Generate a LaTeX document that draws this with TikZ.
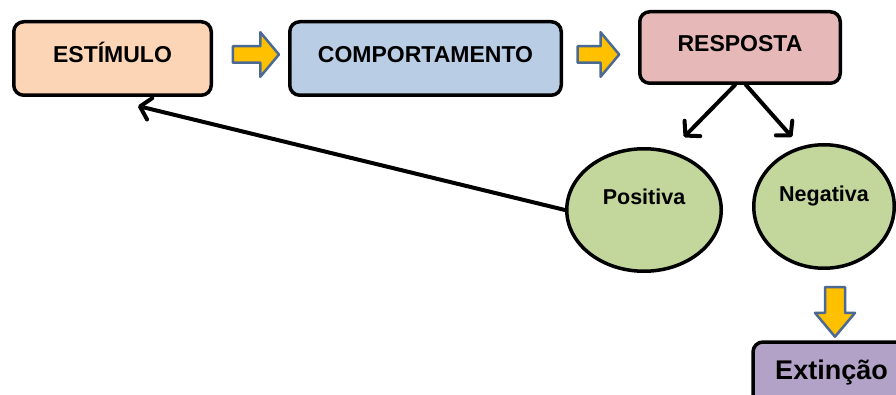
\documentclass[tikz,border=0pt]{standalone}
\usepackage{fontspec}
\setmainfont{Liberation Sans}
\usetikzlibrary{arrows.meta}
\usetikzlibrary{shapes, shapes.arrows}

\definecolor{corEst}{HTML}{FBD5B5}
\definecolor{corComp}{HTML}{B9CDE5}
\definecolor{corResp}{HTML}{E6B9B8}
\definecolor{corElip}{HTML}{C3D69B}
\definecolor{corExt}{HTML}{B3A2C7}
\definecolor{corSeta}{HTML}{FFC000}
\definecolor{bordaSeta}{HTML}{4A6A94}

\tikzset{
  caixa/.style={rectangle, draw=black, rounded corners=10pt, line width=3.5pt,
    inner sep=0pt, font=\bfseries\fontsize{23}{26}\selectfont,
    text height=17pt, text depth=8pt},
  elipse/.style={ellipse, draw=black, fill=corElip, line width=3.5pt,
    inner sep=0pt, font=\bfseries\fontsize{21.5}{24}\selectfont,
    text height=16pt, text depth=27pt},
  setabloco/.style={single arrow, draw=bordaSeta, fill=corSeta, line width=2.5pt,
    inner xsep=0pt, inner ysep=7pt, text height=0pt, text depth=0pt,
    single arrow head extend=14pt, single arrow tip angle=100},
  seta/.style={black, line width=4pt, line cap=round, ->},
}

\begin{document}
\begin{tikzpicture}[x=1pt,y=-1pt,>={Straight Barb[length=10pt,width=22pt,round]},line join=round]
\useasboundingbox (0,0) rectangle (896,395);
\clip (0,0) rectangle (896,395);
%%
\node (estimulo) at (112.5,58.5) [caixa,fill=corEst,minimum width=197.5pt,minimum height=73.5pt] {ESTÍMULO};
  \node (comportamento) at (425.5,58.5) [caixa,fill=corComp,minimum width=271.5pt,minimum height=73.5pt] {COMPORTAMENTO};
  \node (resposta) at (740,47.5) [caixa,fill=corResp,minimum width=200.5pt,minimum height=71.5pt] {RESPOSTA};
  \node (positiva) at (644,210) [elipse,minimum width=154.5pt,minimum height=122.5pt] {Positiva};
  \node (negativa) at (824,206.5) [elipse,minimum width=140.5pt,minimum height=123.5pt,text depth=25pt] {Negativa};
  \node (extincao) at (831.5,378) [caixa,fill=corExt,minimum width=157pt,minimum height=72pt,
    font=\bfseries\fontsize{27}{30}\selectfont,text height=20pt,text depth=17pt] {Extinção};
%
  \node (seta1) at (252.5,54.5) [setabloco,minimum height=46pt] {};
  \node (seta2) at (595,54.5) [setabloco,minimum height=41.5pt] {};
  \node (seta3) at (835,306) [setabloco,rotate=-90,minimum height=49.5pt,inner ysep=8.75pt,
    single arrow head extend=10pt,single arrow tip angle=80] {};
%
  \coordinate (pontaEst) at (138,106);
  \coordinate (pontaPos) at (684,137);
  \coordinate (pontaNeg) at (792,137);
  \draw [seta] (positiva.west) -- (pontaEst);
  \draw [seta] ([xshift=-5pt]resposta.south) -- (pontaPos);
  \draw [seta] ([xshift=6pt]resposta.south) -- (pontaNeg);
%
\end{tikzpicture}
\end{document}
